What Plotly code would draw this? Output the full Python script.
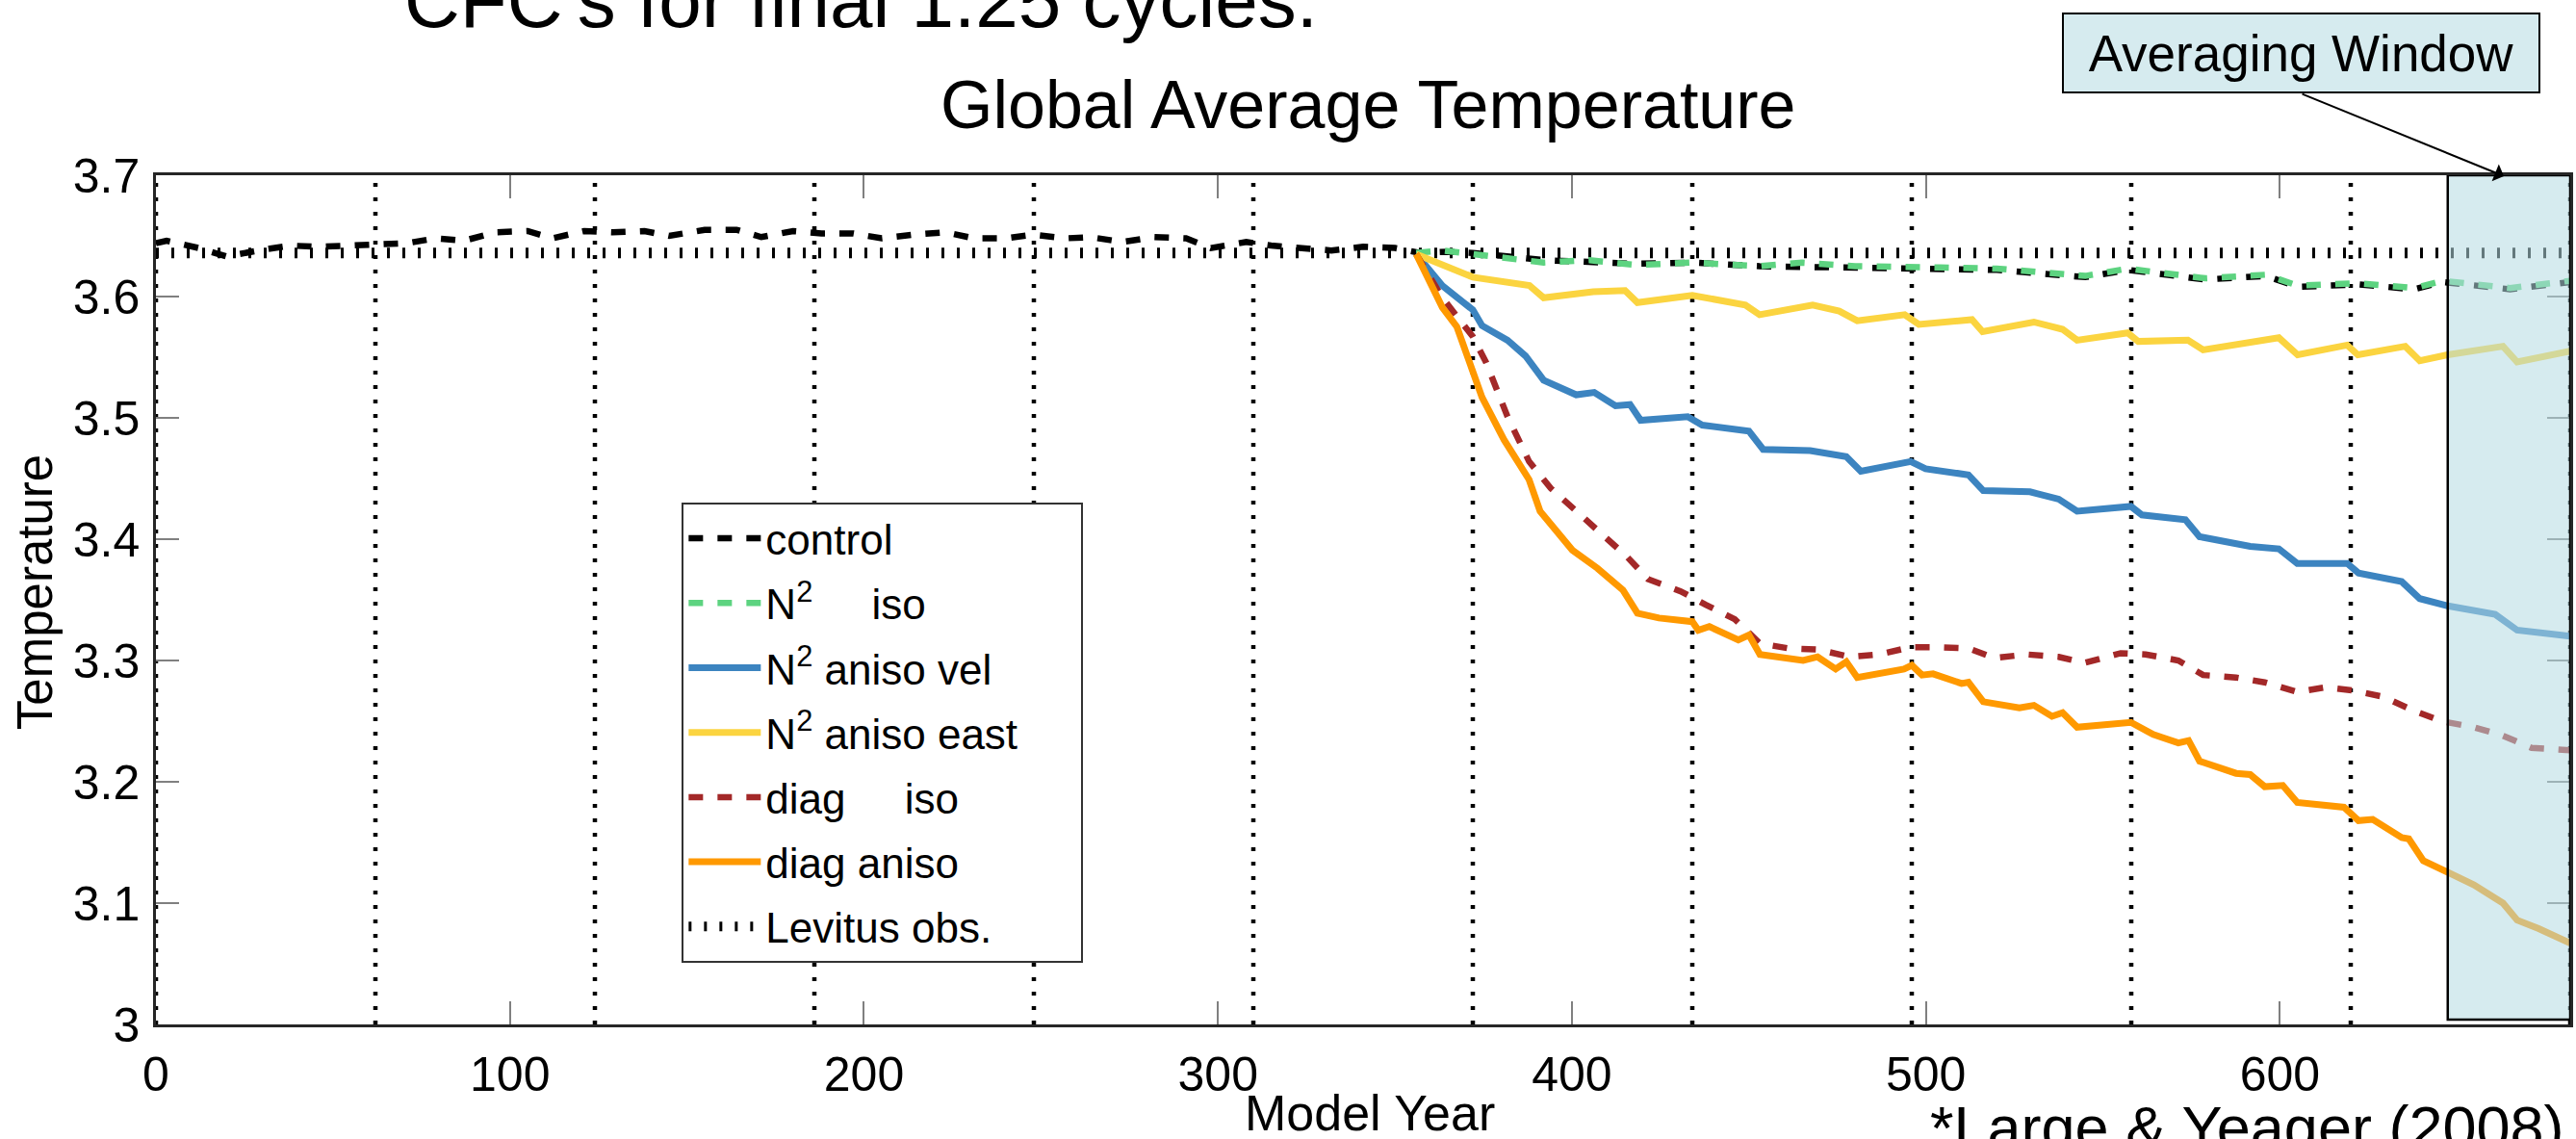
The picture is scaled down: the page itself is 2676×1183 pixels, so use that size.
import plotly.graph_objects as go

# ---- series (model year, global mean temperature) ----
control_year = [0, 3, 12, 20, 29, 38, 46, 54, 63, 71, 79, 87, 96, 105, 112, 121, 129, 138, 145,
                155, 164, 171, 180, 188, 197, 205, 214, 223, 231, 240, 248, 257, 264, 273, 282,
                291, 298, 308, 315, 324, 332, 341, 350, 357, 365, 372, 392, 418, 434, 453, 480,
                504, 520, 545, 557, 579, 596, 605, 622, 638, 646, 665, 682]
control_temp = [3.644, 3.646, 3.640, 3.633, 3.638, 3.642, 3.641, 3.642, 3.644, 3.644, 3.648, 3.646,
                3.653, 3.654, 3.648, 3.654, 3.653, 3.654, 3.650, 3.655, 3.655, 3.649, 3.654, 3.652,
                3.652, 3.648, 3.651, 3.653, 3.648, 3.648, 3.651, 3.648, 3.649, 3.645, 3.649, 3.648,
                3.640, 3.645, 3.642, 3.640, 3.638, 3.641, 3.640, 3.636, 3.637, 3.636, 3.630, 3.627,
                3.628, 3.625, 3.624, 3.623, 3.622, 3.616, 3.622, 3.614, 3.617, 3.608, 3.610, 3.606,
                3.612, 3.606, 3.612]

n2_iso_year = [356, 363, 372, 392, 405, 418, 434, 453, 465, 480, 504, 520, 545, 557, 579, 596,
               605, 622, 638, 646, 665, 682]
n2_iso_temp = [3.636, 3.638, 3.635, 3.628, 3.630, 3.626, 3.628, 3.625, 3.628, 3.625, 3.624, 3.623,
               3.617, 3.623, 3.615, 3.618, 3.609, 3.611, 3.607, 3.613, 3.607, 3.613]

n2_vel_year = [356, 363.4, 372, 374.6, 381.8, 386.9, 392, 401.2, 406.3, 412.3, 416.4, 419.4, 432.7,
               436.8, 450, 454, 467.3, 477.5, 481.6, 495.7, 499.9, 512, 516.2, 529.4, 537.5, 542.7,
               557.9, 561, 573.3, 577.3, 591.6, 599.7, 604.9, 619, 622.2, 634.4, 639.5, 647.4,
               660.8, 667, 682]
n2_vel_temp = [3.635, 3.609, 3.589, 3.576, 3.564, 3.551, 3.531, 3.519, 3.521, 3.510, 3.511, 3.498,
               3.501, 3.494, 3.489, 3.474, 3.473, 3.468, 3.456, 3.464, 3.458, 3.453, 3.440, 3.439,
               3.433, 3.423, 3.427, 3.420, 3.416, 3.402, 3.394, 3.392, 3.380, 3.380, 3.372, 3.365,
               3.351, 3.345, 3.338, 3.325, 3.320]

n2_east_year = [356, 363.4, 372, 388, 392, 406, 415, 418.5, 434, 449, 453, 468, 475.5, 480.6, 494,
                498, 513, 516, 530.5, 538.6, 542.7, 557, 560, 574, 578.3, 599.7, 605, 619, 622,
                635.4, 639.5, 647.4, 663, 667, 682]
n2_east_temp = [3.635, 3.626, 3.616, 3.609, 3.599, 3.604, 3.605, 3.595, 3.601, 3.593, 3.585, 3.593,
                3.588, 3.580, 3.585, 3.577, 3.581, 3.571, 3.579, 3.573, 3.564, 3.570, 3.563, 3.564,
                3.556, 3.566, 3.552, 3.560, 3.552, 3.559, 3.547, 3.552, 3.559, 3.546, 3.555]

diag_iso_year = [356, 363.4, 372, 375.7, 381.8, 387.9, 394, 401.2, 409.3, 415.4, 421.5, 430.7,
                 437.8, 446, 453.1, 461.2, 469.4, 478.6, 486.7, 495.8, 503, 512, 519.3, 528.4,
                 537.5, 544.8, 555, 562.1, 571.3, 578.3, 587.6, 595.7, 604.9, 613.1, 621.2, 629.3,
                 637.5, 645.6, 654.8, 663, 671.1, 682]
diag_iso_temp = [3.635, 3.599, 3.567, 3.546, 3.501, 3.464, 3.442, 3.423, 3.403, 3.386, 3.367,
                 3.357, 3.346, 3.334, 3.314, 3.310, 3.309, 3.303, 3.305, 3.311, 3.311, 3.310,
                 3.302, 3.305, 3.303, 3.298, 3.306, 3.305, 3.300, 3.288, 3.286, 3.282, 3.274,
                 3.278, 3.275, 3.270, 3.259, 3.250, 3.245, 3.238, 3.228, 3.226]

diag_aniso_year = [356, 363.4, 367.5, 372, 374.6, 380.8, 387.9, 391, 400.1, 407.2, 414.4, 418.5,
                   424.6, 434, 435.7, 438.8, 447, 450, 453.1, 465.3, 469.4, 474.5, 477.5, 480.6,
                   493.8, 496, 498.9, 502, 510.1, 512, 516.2, 526.4, 530.5, 535.6, 538.6, 542.7,
                   550.9, 557.9, 564.2, 571.3, 574.2, 577.3, 587.6, 591.6, 595.7, 600.8, 604.9,
                   618.1, 622.2, 626.2, 634.4, 636.4, 640.5, 647.4, 654.8, 663, 667, 673.1, 682]
diag_aniso_temp = [3.635, 3.591, 3.575, 3.540, 3.517, 3.482, 3.449, 3.423, 3.391, 3.376, 3.358,
                   3.339, 3.335, 3.332, 3.325, 3.328, 3.317, 3.321, 3.305, 3.300, 3.303, 3.293,
                   3.299, 3.286, 3.293, 3.296, 3.288, 3.289, 3.281, 3.282, 3.266, 3.261, 3.263,
                   3.254, 3.257, 3.245, 3.247, 3.249, 3.239, 3.232, 3.234, 3.217, 3.207, 3.206,
                   3.196, 3.197, 3.183, 3.179, 3.168, 3.169, 3.154, 3.153, 3.135, 3.125, 3.115,
                   3.100, 3.086, 3.079, 3.067]

levitus_year = [0, 682]
levitus_temp = [3.636, 3.636]

# forcing-cycle boundaries (62-year cycles) and the averaging window
cycle_years = [0, 62, 124, 186, 248, 310, 372, 434, 496, 558, 620, 682]
window_years = [647.4, 682]
x_range = [0, 682]
y_range = [3.0, 3.7]
x_ticks = [0, 100, 200, 300, 400, 500, 600]
y_ticks = [3.0, 3.1, 3.2, 3.3, 3.4, 3.5, 3.6, 3.7]
y_tick_text = ["3", "3.1", "3.2", "3.3", "3.4", "3.5", "3.6", "3.7"]

# ---- page geometry ----
W, H = 2676, 1183
L, R, T, B = 162, 3, 182, 119
PW, PH = W - L - R, H - T - B
FONT = "Liberation Sans, Arial, sans-serif"
NB = "\u00a0"


def px_x(px):
    return (px - L) / PW


def px_y(py):
    return (H - B - py) / PH


fig = go.Figure()

# dotted cycle boundaries
cx, cy = [], []
for yr in cycle_years:
    cx += [yr, yr, None]
    cy += [y_range[0], y_range[1], None]
fig.add_trace(go.Scatter(x=cx, y=cy, mode="lines", showlegend=False, hoverinfo="skip",
                         line=dict(color="black", width=4.5, dash="4px,11px")))

series = [
    ("Levitus obs.", levitus_year, levitus_temp, "black", 11, "3px,13px", 7),
    ("control", control_year, control_temp, "black", 6.5, "15px,15px", 1),
    ("N<sup>2</sup>" + NB * 5 + "iso", n2_iso_year, n2_iso_temp, "rgb(93,211,128)", 6.5,
     "15px,15px", 2),
    ("N<sup>2</sup> aniso vel", n2_vel_year, n2_vel_temp, "rgb(60,132,192)", 7, "solid", 3),
    ("N<sup>2</sup> aniso east" + NB * 5, n2_east_year, n2_east_temp, "rgb(251,212,64)", 7,
     "solid", 4),
    ("diag" + NB * 5 + "iso", diag_iso_year, diag_iso_temp, "rgb(163,40,40)", 6.5, "15px,15px", 5),
    ("diag aniso", diag_aniso_year, diag_aniso_temp, "rgb(255,153,0)", 7, "solid", 6),
]
for i, (name, xs, ys, color, width, dash, rank) in enumerate(series):
    fig.add_trace(go.Scatter(x=xs, y=ys, mode="lines", name=name, legendrank=rank,
                             legendgroup="g%d" % rank,
                             line=dict(color=color, width=width, dash=dash)))

axis_common = dict(showgrid=False, zeroline=False, showline=True, linecolor="#262626",
                   linewidth=2.5, mirror="ticks", ticks="inside", ticklen=24, tickwidth=1.5,
                   tickcolor="#808080", tickfont=dict(family=FONT, size=50, color="black"))
fig.update_xaxes(range=x_range, tickvals=x_ticks, ticklabelstandoff=6, **axis_common)
fig.update_yaxes(range=y_range, tickvals=y_ticks, ticktext=y_tick_text,
                 ticklabelstandoff=4, **axis_common)

# averaging window (drawn over the curves, translucent)
fig.add_shape(type="rect", xref="x", yref="y", x0=window_years[0], x1=window_years[1],
              y0=3.004, y1=y_range[1], layer="above",
              fillcolor="rgba(180,219,226,0.55)", line=dict(color="black", width=2.5))

ann = [
    dict(text="CFC's for final 1.25 cycles.", x=px_x(418), y=px_y(47), xanchor="left",
         yanchor="bottom", font=dict(size=80)),
    dict(text="Global Average Temperature", x=px_x(1423), y=px_y(150), xanchor="center",
         yanchor="bottom", font=dict(size=70)),
    dict(text="Model Year", x=px_x(1425), y=px_y(1125), xanchor="center", yanchor="top",
         font=dict(size=52)),
    dict(text="*Large & Yeager (2008)", x=px_x(2005), y=px_y(1134), xanchor="left",
         yanchor="top", font=dict(size=63)),
    dict(text="Temperature", x=px_x(36), y=px_y(615), xanchor="center", yanchor="middle",
         textangle=-90, font=dict(size=51)),
    dict(text="Averaging Window", x=px_x(2393), y=px_y(55), xanchor="center",
         yanchor="middle", width=493, height=80, borderpad=0, borderwidth=2,
         bordercolor="black", bgcolor="rgb(214,235,239)", font=dict(size=53)),
]
for a in ann:
    a.update(xref="paper", yref="paper", showarrow=False)
    a["font"].update(family=FONT, color="black")
    fig.add_annotation(**a)

# pointer from the label box to the window
fig.add_annotation(x=px_x(2604), y=px_y(183), xref="paper", yref="paper", text="",
                   showarrow=True, ax=2393 - 2604, ay=97 - 183, axref="pixel", ayref="pixel",
                   arrowhead=1, arrowsize=1.6, arrowwidth=2, arrowcolor="black", standoff=0)

fig.update_layout(
    width=W, height=H, margin=dict(l=L, r=R, t=T, b=B),
    paper_bgcolor="white", plot_bgcolor="white",
    font=dict(family=FONT, color="black"),
    legend=dict(x=px_x(709), y=px_y(522), xanchor="left", yanchor="top",
                bgcolor="white", bordercolor="#333333", borderwidth=2,
                font=dict(family=FONT, size=44), itemwidth=75, tracegroupgap=7,
                traceorder="grouped"),
)

fig.write_html("out.html")
